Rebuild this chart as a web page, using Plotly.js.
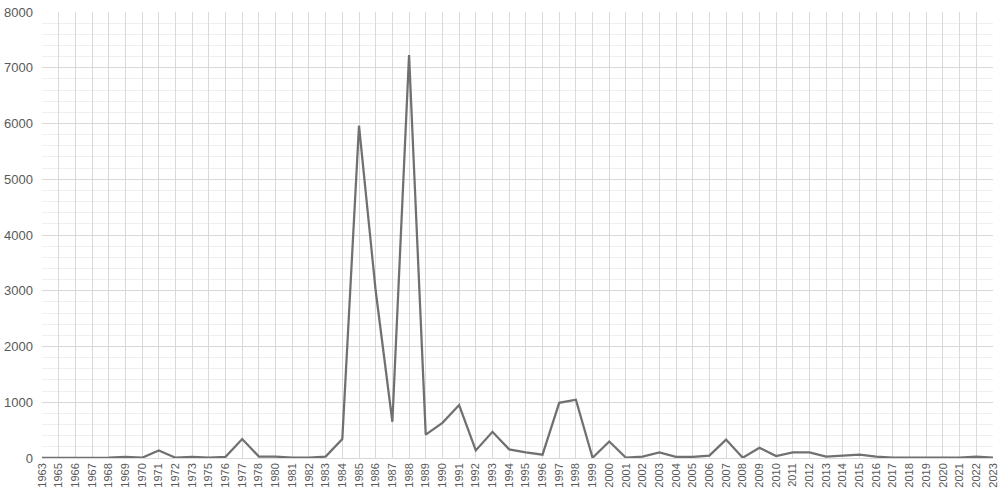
<!DOCTYPE html>
<html>
<head>
<meta charset="utf-8">
<script src="https://cdn.plot.ly/plotly-3.0.1.min.js"></script>
<style>html,body{margin:0;padding:0;background:#fff;}#chart{width:1002px;height:494px;}</style>
</head>
<body>
<div id="chart"></div>
<script>
const years = ['1963','1965','1966','1967','1968','1969','1970','1971','1972','1973','1975','1976','1977','1978','1980','1981','1982','1983','1984','1985','1986','1987','1988','1989','1990','1991','1992','1993','1994','1995','1996','1997','1998','1999','2000','2001','2002','2003','2004','2005','2006','2007','2008','2009','2010','2011','2012','2013','2014','2015','2016','2017','2018','2019','2020','2021','2022','2023'];
const values = [0,0,0,0,5,20,5,135,5,20,5,20,340,25,25,5,5,25,340,5960,3000,650,7230,420,630,950,135,470,155,100,60,990,1046,5,295,5,24,100,20,20,42,330,5,185,36,100,100,25,45,60,25,5,5,5,5,5,25,5];

const trace = {
  x: years, y: values, type: 'scatter', mode: 'lines',
  line: {color: '#707070', width: 2.25},
  hoverinfo: 'x+y'
};
const layout = {
  width: 1002, height: 494,
  margin: {l: 42, r: 9, t: 12, b: 36},
  paper_bgcolor: '#ffffff', plot_bgcolor: '#ffffff',
  showlegend: false,
  font: {family: 'Liberation Sans, Arial, sans-serif', color: '#595959'},
  xaxis: {
    type: 'category', range: [0, years.length - 1],
    tickangle: -90, tickfont: {size: 11, color: '#595959'},
    showgrid: true, gridcolor: '#d9d9d9', gridwidth: 1,
    showline: false, zeroline: false, ticks: '', ticklabelstandoff: 2
  },
  yaxis: {
    range: [0, 8000], dtick: 1000, tick0: 0,
    tickfont: {size: 13, color: '#595959'},
    showgrid: true, gridcolor: '#d9d9d9', gridwidth: 1,
    minor: {dtick: 200, showgrid: true, gridcolor: '#efefef', gridwidth: 1},
    showline: false, zeroline: true, zerolinecolor: '#d9d9d9', zerolinewidth: 1,
    ticks: '', ticklabelstandoff: 8
  }
};
Plotly.newPlot('chart', [trace], layout, {displayModeBar: false, staticPlot: true});
</script>
</body>
</html>
